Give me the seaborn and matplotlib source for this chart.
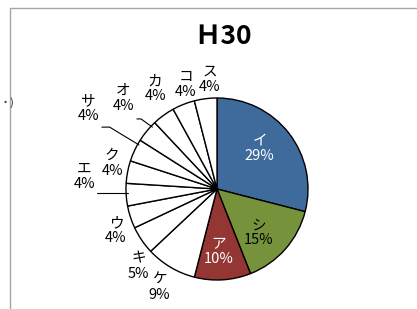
import matplotlib
matplotlib.use("Agg")
import matplotlib.pyplot as plt
import seaborn as sns

sns.set_theme(style="white")
plt.rcParams['font.family'] = ['Noto Sans CJK JP', 'DejaVu Sans']

# Data (clockwise from 12 o'clock)
categories = ["イ", "シ", "ア", "ケ", "キ", "ウ", "エ", "ク", "サ", "オ", "カ", "コ", "ス"]
values = [29, 15, 10, 9, 5, 4, 4, 4, 4, 4, 4, 4, 4]
title = "Ｈ30"

# Styles
slice_colors = ["#3F6A9C", "#76933C", "#943634"] + ["#FFFFFF"] * 10
text_colors = ["white", "black", "white"] + ["black"] * 10
# label centres relative to pie (radius = 1)
label_pos = [(0.47, 0.45), (0.46, -0.48), (0.02, -0.69), (-0.63, -1.08),
             (-0.86, -0.85), (-1.11, -0.46), (-1.46, 0.14), (-1.15, 0.28),
             (-1.41, 0.885), (-1.03, 0.995), (-0.68, 1.10), (-0.34, 1.148),
             (-0.077, 1.203)]
leaders = {
    "エ": [(-1.32, -0.044), (-0.978, -0.044)],
    "サ": [(-1.265, 0.68), (-1.18, 0.68), (-0.857, 0.484)],
    "オ": [(-0.88, 0.77), (-0.835, 0.77), (-0.71, 0.68)],
}

W, H = 417, 309
fig = plt.figure(figsize=(W / 100, H / 100), dpi=100)
fig.patch.set_facecolor("white")

# pie centre (217,189) px, radius 91 px
R = 91
cx, cy = 217, 189
ax = fig.add_axes([(cx - 2 * R) / W, (H - cy - 2 * R) / H, 4 * R / W, 4 * R / H])

ax.pie(values, colors=slice_colors, startangle=90, counterclock=False, radius=1,
       wedgeprops=dict(edgecolor="black", linewidth=1.0))
ax.set_xlim(-2, 2)
ax.set_ylim(-2, 2)
ax.set_aspect("equal")
ax.axis("off")

for cat, v, (x, y), tc in zip(categories, values, label_pos, text_colors):
    ax.text(x, y, f"{cat}\n{v}%", ha="center", va="center", fontsize=10.5,
            color=tc, linespacing=1.1)

for cat, pts in leaders.items():
    xs = [p[0] for p in pts]
    ys = [p[1] for p in pts]
    ax.plot(xs, ys, color="black", linewidth=0.8)

fig.text(223 / W, 1 - 37 / H, title, ha="center", va="center", fontsize=19,
         fontweight="bold", color="black")

# chart-area frame (cut off on right/bottom)
fig.add_artist(plt.Line2D([10 / W, 10 / W], [0, 1 - 8 / H], transform=fig.transFigure,
                          color="#A6A6A6", linewidth=1))
fig.add_artist(plt.Line2D([10 / W, 1], [1 - 8 / H, 1 - 8 / H], transform=fig.transFigure,
                          color="#A6A6A6", linewidth=1))
fig.text(0 / W, 1 - 103 / H, "・)", ha="left", va="center", fontsize=8, color="#333333")

fig.savefig("out.png", dpi=100)
